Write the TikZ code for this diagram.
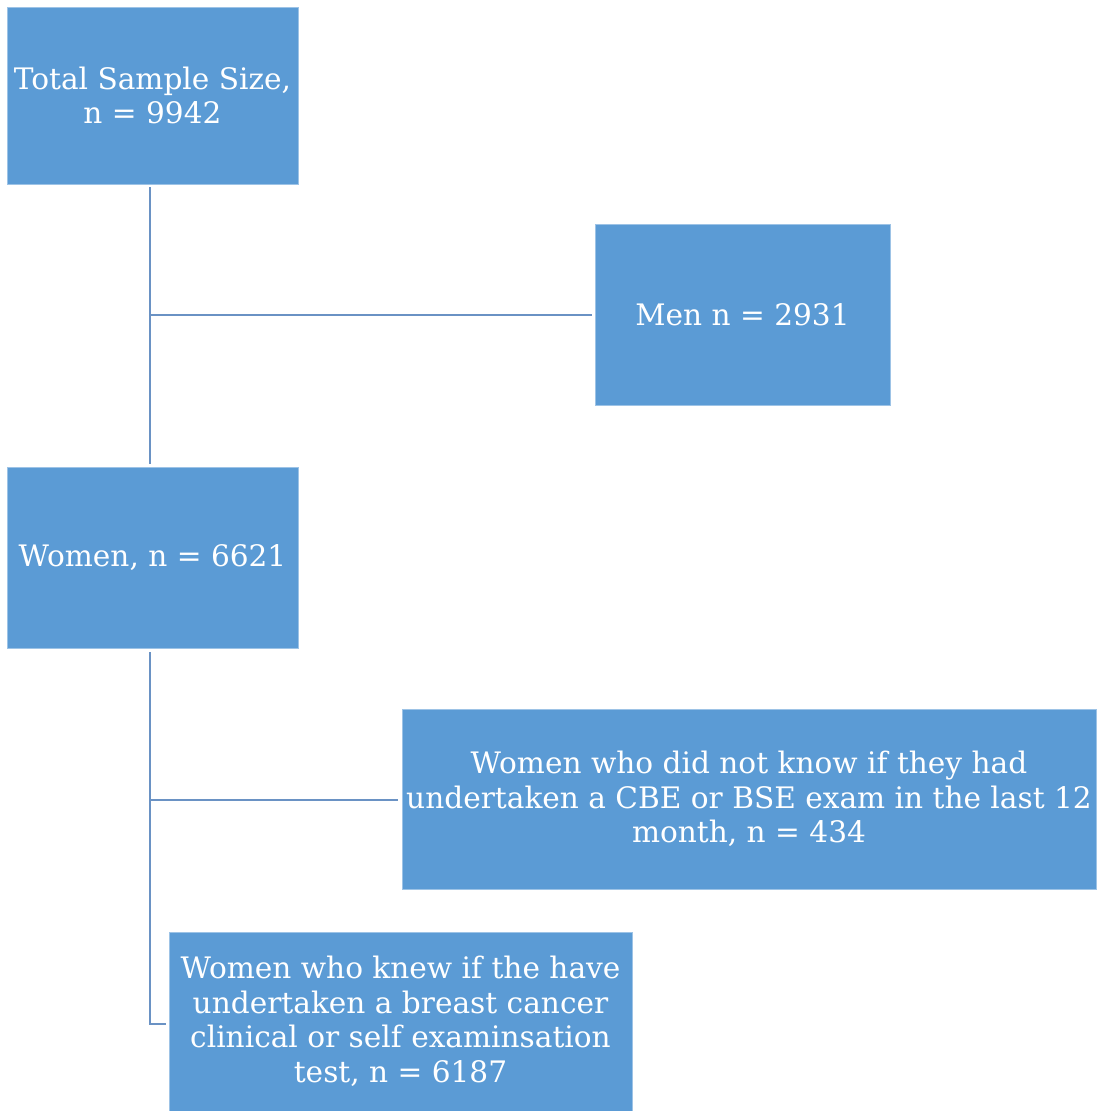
\documentclass[tikz,border=0pt]{standalone}
\usepackage{fontspec}
\setmainfont{DejaVu Serif}
\definecolor{boxblue}{HTML}{5B9BD5}
\definecolor{linkblue}{HTML}{6A92C4}
\tikzset{
  box/.style={rectangle, fill=boxblue, draw=boxblue!60!white, line width=0.8pt, text=white, align=center, inner sep=0pt,
    font=\fontsize{29.6}{34.5}\selectfont},
  conn/.style={draw=linkblue, line width=2pt}
}
\begin{document}
\begin{tikzpicture}[x=1pt,y=-1pt]
\useasboundingbox (0,0) rectangle (1096,1111);
\node[box, minimum width=291pt, minimum height=177pt] (total) at (152.5,95.5) {Total Sample Size,\\n = 9942};
\node[box, minimum width=295pt, minimum height=181pt] (men) at (742.5,314.5) {Men n = 2931};
\node[box, minimum width=291pt, minimum height=181pt] (women) at (152.5,557.5) {Women, n = 6621};
\node[box, minimum width=694pt, minimum height=180pt] (cbe) at (749,799) {Women who did not know if they had\\undertaken a CBE or BSE exam in the last 12\\month, n = 434};
\node[box, minimum width=463pt, minimum height=179pt] (knew) at (400.5,1021.5) {Women who knew if the have\\undertaken a breast cancer\\clinical or self examinsation\\test, n = 6187};
\coordinate (j1) at (150,315);
\coordinate (j2) at (150,800);
\draw[conn] ([xshift=-2.5pt,yshift=-3pt]total.south) -- ([xshift=-2.5pt,yshift=3pt]women.north);
\draw[conn] (j1) -- ([xshift=-3pt]men.west |- j1);
\draw[conn] ([xshift=-2.5pt,yshift=-4pt]women.south) |- ([xshift=-3pt,yshift=-2.5pt]knew.west);
\draw[conn] (j2) -- ([xshift=-4pt]cbe.west |- j2);
\end{tikzpicture}
\end{document}
